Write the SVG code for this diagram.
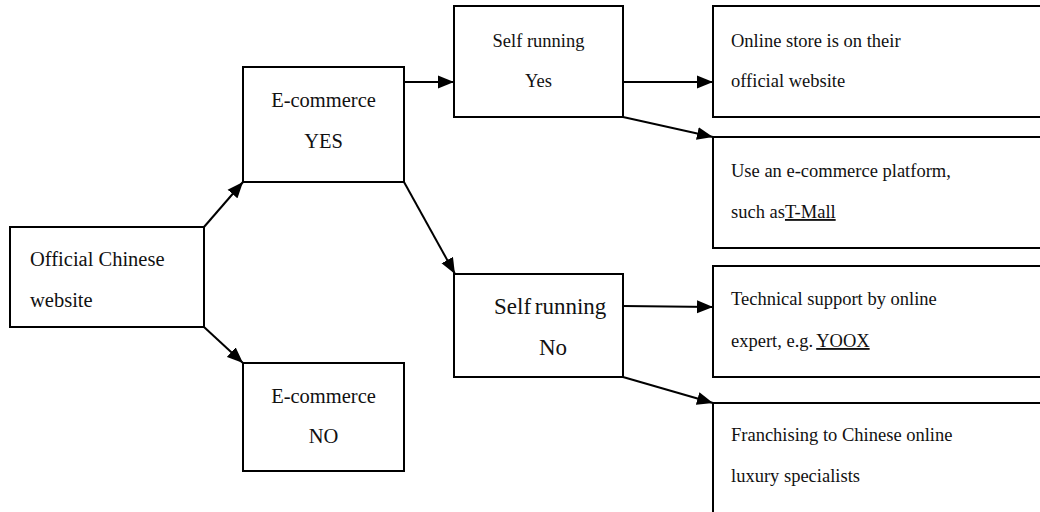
<svg xmlns="http://www.w3.org/2000/svg" width="1040" height="512" viewBox="0 0 1040 512">
<style>
.box{fill:#fff;stroke:#000;stroke-width:2}
text{font-family:'Liberation Serif','Times New Roman',serif;fill:#111}
.c{text-anchor:middle}
.conn line{stroke:#000;stroke-width:2;marker-end:url(#ah)}
</style>
<defs>
<marker id="ah" markerUnits="userSpaceOnUse" markerWidth="17" markerHeight="14" refX="16" refY="7" orient="auto">
<path d="M0,0.5 L16,7 L0,13.5 Z" fill="#000"/>
</marker>
</defs>
<rect width="1040" height="512" fill="#fff"/>
<g id="connectors" class="conn">
<line x1="204" y1="227" x2="243" y2="182"/>
<line x1="204" y1="327" x2="243" y2="363"/>
<line x1="404" y1="82" x2="454" y2="82"/>
<line x1="404" y1="182" x2="455" y2="274"/>
<line x1="623" y1="82" x2="713" y2="82"/>
<line x1="623" y1="117" x2="713" y2="137"/>
<line x1="623" y1="306" x2="713" y2="307"/>
<line x1="623" y1="377" x2="713" y2="403"/>
</g>
<g id="official">
<rect class="box" x="10" y="227" width="194" height="100"/>
<text x="30" y="266" font-size="20.5">Official Chinese</text>
<text x="30" y="307" font-size="20.5">website</text>
</g>
<g id="ecom-yes">
<rect class="box" x="243" y="67" width="161" height="115"/>
<text class="c" x="323.5" y="107" font-size="20.5">E-commerce</text>
<text class="c" x="323.5" y="148" font-size="20.5">YES</text>
</g>
<g id="ecom-no">
<rect class="box" x="243" y="363" width="161" height="108"/>
<text class="c" x="323.5" y="403" font-size="20.5">E-commerce</text>
<text class="c" x="323.5" y="443" font-size="20.5">NO</text>
</g>
<g id="self-yes">
<rect class="box" x="454" y="6" width="169" height="111"/>
<text class="c" x="538.5" y="47" font-size="18.5">Self running</text>
<text class="c" x="538.5" y="87" font-size="18.5">Yes</text>
</g>
<g id="self-no">
<rect class="box" x="454" y="274" width="169" height="103"/>
<text x="494" y="314" font-size="23" word-spacing="-2">Self running</text>
<text class="c" x="553" y="355" font-size="23">No</text>
</g>
<g id="online-store">
<rect class="box" x="713" y="6" width="335" height="111"/>
<text x="731" y="47" font-size="18.5">Online store is on their</text>
<text x="731" y="87" font-size="18.5">official website</text>
</g>
<g id="platform">
<rect class="box" x="713" y="137" width="335" height="111"/>
<text x="731" y="177" font-size="18.5">Use an e-commerce platform,</text>
<text x="731" y="218" font-size="18.5">such as<tspan text-decoration="underline">T-Mall</tspan></text>
</g>
<g id="technical">
<rect class="box" x="713" y="266" width="335" height="111"/>
<text x="731" y="305" font-size="18.5">Technical support by online</text>
<text x="731" y="347" font-size="18.5">expert, e.g.<tspan dx="3" text-decoration="underline">YOOX</tspan></text>
</g>
<g id="franchising">
<rect class="box" x="713" y="403" width="335" height="120"/>
<text x="731" y="441" font-size="18.5">Franchising to Chinese online</text>
<text x="731" y="482" font-size="18.5">luxury specialists</text>
</g>
</svg>
